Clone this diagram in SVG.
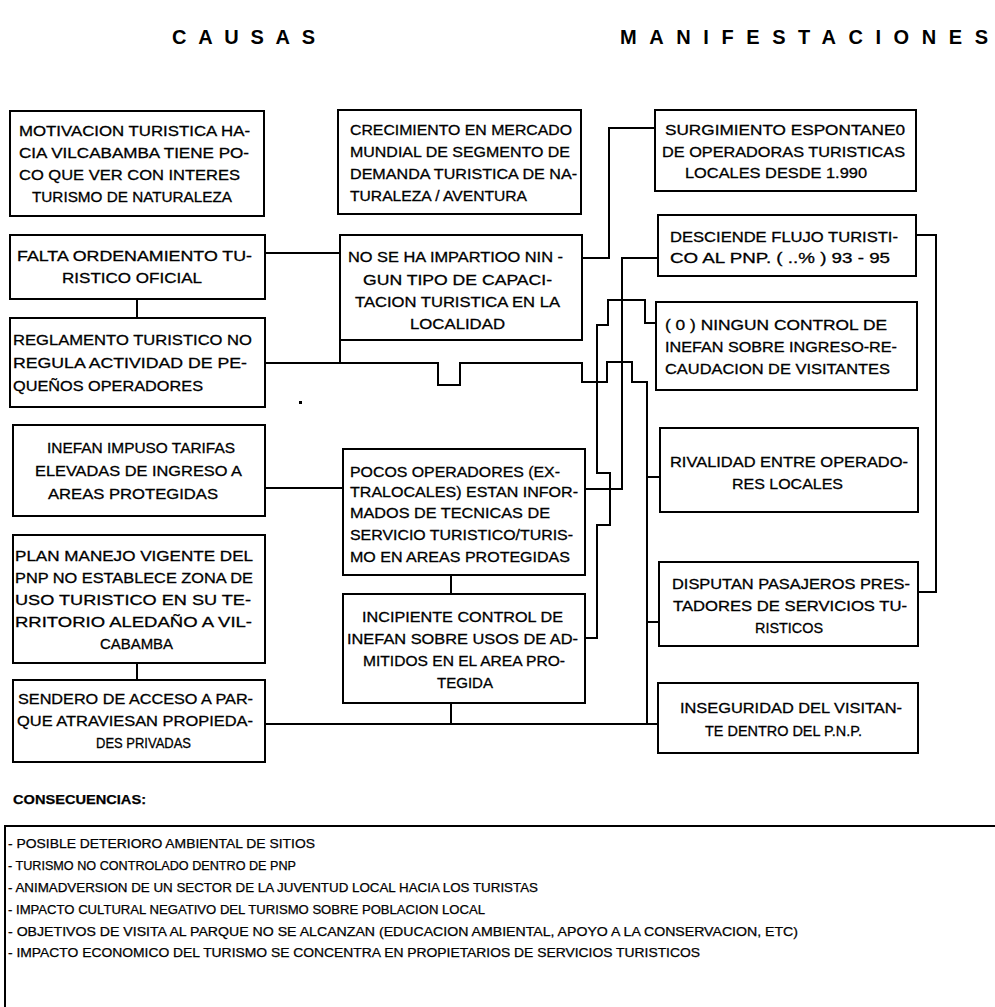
<svg xmlns="http://www.w3.org/2000/svg" width="995" height="1007" viewBox="0 0 995 1007">
<style>
.bg{fill:#fff}
.box{fill:#fff;stroke:#000;stroke-width:2}
.t{font-family:"Liberation Sans Narrow","Liberation Sans",Arial,sans-serif;font-size:15px;fill:#000;stroke:#000;stroke-width:0.3}
.h{font-family:"Liberation Sans",Arial,sans-serif;font-size:20px;font-weight:bold;fill:#000}
.c{font-family:"Liberation Sans Narrow","Liberation Sans",Arial,sans-serif;font-size:12.5px;fill:#000;stroke:#000;stroke-width:0.25}
.ln{fill:none;stroke:#000;stroke-width:2}
</style>
<rect class="bg" x="0" y="0" width="995" height="1007"/>
<text class="h" x="172" y="44" textLength="143" lengthAdjust="spacing">CAUSAS</text>
<text class="h" x="620" y="44" textLength="368" lengthAdjust="spacing">MANIFESTACIONES</text>

<g id="connectors">
<path class="ln" d="M265,253 H340 V363"/>
<path class="ln" d="M265,363 H438 V385 H460 V363 H582 V382 H607 V362 H632 V382 H647 V724"/>
<path class="ln" d="M647,477 H660 M647,622 H659"/>
<path class="ln" d="M582,258 H609 V128 H655"/>
<path class="ln" d="M585,489 H622 V258 H658"/>
<path class="ln" d="M585,638 H597 V525 H610 V473 H597 V325 H608 V300 H645 V323 H656"/>
<path class="ln" d="M265,724 H658 M451,703 V724 M451,575 V594"/>
<path class="ln" d="M265,488 H343"/>
<path class="ln" d="M916,235 H936 V592 H918"/>
<path class="ln" d="M137,299 V318 M137,663 V680"/>
</g>

<g id="L1"><rect class="box" x="10" y="111" width="254" height="105"/>
<text class="t" x="19" y="136" textLength="231" lengthAdjust="spacingAndGlyphs">MOTIVACION TURISTICA HA-</text>
<text class="t" x="19" y="158" textLength="230" lengthAdjust="spacingAndGlyphs">CIA VILCABAMBA TIENE PO-</text>
<text class="t" x="19" y="180" textLength="221" lengthAdjust="spacingAndGlyphs">CO QUE VER CON INTERES</text>
<text class="t" x="32" y="202" textLength="200" lengthAdjust="spacingAndGlyphs">TURISMO DE NATURALEZA</text></g>

<g id="L2"><rect class="box" x="10" y="235" width="255" height="64"/>
<text class="t" x="17" y="261" textLength="235" lengthAdjust="spacingAndGlyphs">FALTA ORDENAMIENTO TU-</text>
<text class="t" x="62" y="283" textLength="140" lengthAdjust="spacingAndGlyphs">RISTICO OFICIAL</text></g>

<g id="L3"><rect class="box" x="10" y="318" width="255" height="89"/>
<text class="t" x="13" y="345" textLength="239" lengthAdjust="spacingAndGlyphs">REGLAMENTO TURISTICO NO</text>
<text class="t" x="13" y="368" textLength="234" lengthAdjust="spacingAndGlyphs">REGULA ACTIVIDAD DE PE-</text>
<text class="t" x="13" y="391" textLength="190" lengthAdjust="spacingAndGlyphs">QUEÑOS OPERADORES</text></g>
<rect x="299" y="401" width="3" height="3" fill="#000"/>

<g id="L4"><rect class="box" x="13" y="425" width="252" height="91"/>
<text class="t" x="47" y="453" textLength="188" lengthAdjust="spacingAndGlyphs">INEFAN IMPUSO TARIFAS</text>
<text class="t" x="35" y="476" textLength="207" lengthAdjust="spacingAndGlyphs">ELEVADAS DE INGRESO A</text>
<text class="t" x="48" y="499" textLength="170" lengthAdjust="spacingAndGlyphs">AREAS PROTEGIDAS</text></g>

<g id="L5"><rect class="box" x="13" y="535" width="252" height="128"/>
<text class="t" x="15" y="561" textLength="238" lengthAdjust="spacingAndGlyphs">PLAN MANEJO VIGENTE DEL</text>
<text class="t" x="15" y="583" textLength="238" lengthAdjust="spacingAndGlyphs">PNP NO ESTABLECE ZONA DE</text>
<text class="t" x="15" y="605" textLength="236" lengthAdjust="spacingAndGlyphs">USO TURISTICO EN SU TE-</text>
<text class="t" x="15" y="627" textLength="237" lengthAdjust="spacingAndGlyphs">RRITORIO ALEDAÑO A VIL-</text>
<text class="t" x="100" y="649" textLength="73" lengthAdjust="spacingAndGlyphs">CABAMBA</text></g>

<g id="L6"><rect class="box" x="13" y="680" width="252" height="82"/>
<text class="t" x="18" y="704" textLength="235" lengthAdjust="spacingAndGlyphs">SENDERO DE ACCESO A PAR-</text>
<text class="t" x="17" y="726" textLength="236" lengthAdjust="spacingAndGlyphs">QUE ATRAVIESAN PROPIEDA-</text>
<text class="t" x="96" y="748" textLength="95" lengthAdjust="spacingAndGlyphs">DES PRIVADAS</text></g>

<g id="M1"><rect class="box" x="338" y="110" width="243" height="104"/>
<text class="t" x="350" y="135" textLength="222" lengthAdjust="spacingAndGlyphs">CRECIMIENTO EN MERCADO</text>
<text class="t" x="350" y="157" textLength="220" lengthAdjust="spacingAndGlyphs">MUNDIAL DE SEGMENTO DE</text>
<text class="t" x="350" y="179" textLength="227" lengthAdjust="spacingAndGlyphs">DEMANDA TURISTICA DE NA-</text>
<text class="t" x="350" y="201" textLength="177" lengthAdjust="spacingAndGlyphs">TURALEZA / AVENTURA</text></g>

<g id="M2"><rect class="box" x="340" y="235" width="242" height="105"/>
<text class="t" x="348" y="262" textLength="215" lengthAdjust="spacingAndGlyphs">NO SE HA IMPARTIOO NIN -</text>
<text class="t" x="363" y="285" textLength="189" lengthAdjust="spacingAndGlyphs">GUN  TIPO  DE  CAPACI-</text>
<text class="t" x="355" y="307" textLength="205" lengthAdjust="spacingAndGlyphs">TACION TURISTICA EN LA</text>
<text class="t" x="410" y="329" textLength="95" lengthAdjust="spacingAndGlyphs">LOCALIDAD</text></g>

<g id="M5"><rect class="box" x="343" y="449" width="242" height="126"/>
<text class="t" x="350" y="477" textLength="210" lengthAdjust="spacingAndGlyphs">POCOS OPERADORES (EX-</text>
<text class="t" x="350" y="497" textLength="228" lengthAdjust="spacingAndGlyphs">TRALOCALES) ESTAN INFOR-</text>
<text class="t" x="350" y="518" textLength="200" lengthAdjust="spacingAndGlyphs">MADOS DE TECNICAS DE</text>
<text class="t" x="350" y="540" textLength="223" lengthAdjust="spacingAndGlyphs">SERVICIO TURISTICO/TURIS-</text>
<text class="t" x="350" y="562" textLength="220" lengthAdjust="spacingAndGlyphs">MO EN AREAS PROTEGIDAS</text></g>

<g id="M6"><rect class="box" x="343" y="594" width="242" height="109"/>
<text class="t" x="362" y="622" textLength="201" lengthAdjust="spacingAndGlyphs">INCIPIENTE CONTROL DE</text>
<text class="t" x="347" y="644" textLength="231" lengthAdjust="spacingAndGlyphs">INEFAN SOBRE USOS DE AD-</text>
<text class="t" x="363" y="666" textLength="202" lengthAdjust="spacingAndGlyphs">MITIDOS EN EL AREA PRO-</text>
<text class="t" x="437" y="688" textLength="56" lengthAdjust="spacingAndGlyphs">TEGIDA</text></g>

<g id="R1"><rect class="box" x="655" y="110" width="261" height="81"/>
<text class="t" x="665" y="135" textLength="240" lengthAdjust="spacingAndGlyphs">SURGIMIENTO ESPONTANE0</text>
<text class="t" x="662" y="157" textLength="243" lengthAdjust="spacingAndGlyphs">DE OPERADORAS TURISTICAS</text>
<text class="t" x="685" y="178" textLength="182" lengthAdjust="spacingAndGlyphs">LOCALES DESDE 1.990</text></g>

<g id="R2"><rect class="box" x="658" y="215" width="258" height="61"/>
<text class="t" x="670" y="242" textLength="228" lengthAdjust="spacingAndGlyphs">DESCIENDE FLUJO TURISTI-</text>
<text class="t" x="670" y="263" textLength="220" lengthAdjust="spacingAndGlyphs">CO  AL  PNP.  ( ..% )  93 - 95</text></g>

<g id="R3"><rect class="box" x="656" y="302" width="261" height="88"/>
<text class="t" x="665" y="330" textLength="222" lengthAdjust="spacingAndGlyphs">( 0 )  NINGUN CONTROL DE</text>
<text class="t" x="665" y="352" textLength="232" lengthAdjust="spacingAndGlyphs">INEFAN SOBRE INGRESO-RE-</text>
<text class="t" x="665" y="374" textLength="225" lengthAdjust="spacingAndGlyphs">CAUDACION DE VISITANTES</text></g>

<g id="R4"><rect class="box" x="660" y="428" width="258" height="84"/>
<text class="t" x="670" y="467" textLength="238" lengthAdjust="spacingAndGlyphs">RIVALIDAD ENTRE OPERADO-</text>
<text class="t" x="732" y="489" textLength="111" lengthAdjust="spacingAndGlyphs">RES LOCALES</text></g>

<g id="R5"><rect class="box" x="659" y="562" width="259" height="84"/>
<text class="t" x="672" y="589" textLength="238" lengthAdjust="spacingAndGlyphs">DISPUTAN PASAJEROS PRES-</text>
<text class="t" x="673" y="611" textLength="234" lengthAdjust="spacingAndGlyphs">TADORES DE SERVICIOS TU-</text>
<text class="t" x="755" y="633" textLength="68" lengthAdjust="spacingAndGlyphs">RISTICOS</text></g>

<g id="R6"><rect class="box" x="658" y="683" width="260" height="70"/>
<text class="t" x="680" y="713" textLength="222" lengthAdjust="spacingAndGlyphs">INSEGURIDAD DEL VISITAN-</text>
<text class="t" x="705" y="736" textLength="157" lengthAdjust="spacingAndGlyphs">TE DENTRO DEL P.N.P.</text></g>

<g id="consecuencias">
<text class="c" x="13" y="804" font-weight="bold" textLength="133" lengthAdjust="spacingAndGlyphs">CONSECUENCIAS:</text>
<path class="ln" d="M995,826 H5 V1007"/>
<text class="c" x="8" y="848" textLength="307" lengthAdjust="spacingAndGlyphs">- POSIBLE DETERIORO AMBIENTAL DE SITIOS</text>
<text class="c" x="8" y="870" textLength="288" lengthAdjust="spacingAndGlyphs">- TURISMO NO CONTROLADO DENTRO DE PNP</text>
<text class="c" x="8" y="892" textLength="530" lengthAdjust="spacingAndGlyphs">- ANIMADVERSION DE UN SECTOR DE LA JUVENTUD LOCAL HACIA LOS TURISTAS</text>
<text class="c" x="8" y="914" textLength="477" lengthAdjust="spacingAndGlyphs">- IMPACTO CULTURAL NEGATIVO DEL TURISMO SOBRE POBLACION LOCAL</text>
<text class="c" x="8" y="936" textLength="790" lengthAdjust="spacingAndGlyphs">- OBJETIVOS DE VISITA AL PARQUE NO SE ALCANZAN (EDUCACION  AMBIENTAL, APOYO A LA CONSERVACION, ETC)</text>
<text class="c" x="8" y="957" textLength="692" lengthAdjust="spacingAndGlyphs">- IMPACTO ECONOMICO DEL TURISMO SE CONCENTRA  EN PROPIETARIOS DE SERVICIOS TURISTICOS</text>
</g>
</svg>
